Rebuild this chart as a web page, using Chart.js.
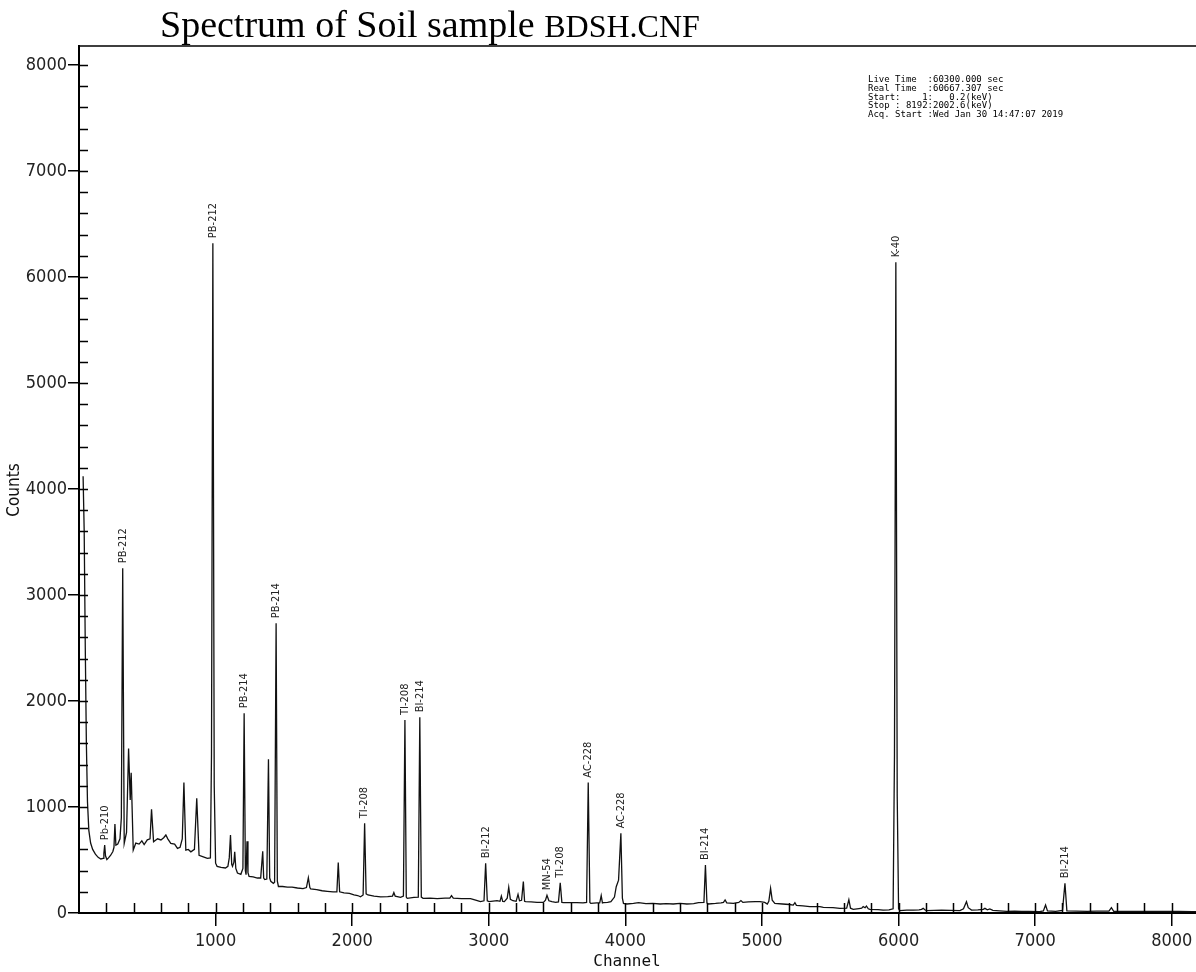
<!DOCTYPE html>
<html>
<head>
<meta charset="utf-8">
<title>Spectrum of Soil sample BDSH.CNF</title>
<script src="https://cdn.jsdelivr.net/npm/chart.js@4.4.0/dist/chart.umd.min.js"></script>
<style>
html, body { margin: 0; padding: 0; background: #fff; overflow: hidden; width: 1196px; height: 972px; }
#wrap { position: relative; width: 1196px; height: 972px; overflow: hidden; }
#myChart { position: absolute; left: 0; top: 0; }
#title { position: absolute; left: 160px; top: 5px; font-family: 'Liberation Serif', 'Times New Roman', serif;
         font-size: 38px; line-height: 38px; white-space: nowrap; color: #000; }
#title span { font-size: 32px; }
#info { position: absolute; left: 868px; top: 75px; font-family: 'DejaVu Sans Mono', monospace;
        font-size: 9px; line-height: 8.8px; white-space: pre; color: #000; }
</style>
</head>
<body>
<div id="wrap">
  <canvas id="myChart" width="1200" height="972"></canvas>
  <div id="title">Spectrum of Soil sample <span>BDSH.CNF</span></div>
  <div id="info">Live Time  :60300.000 sec
Real Time  :60667.307 sec
Start:    1:   0.2(keV)
Stop : 8192:2002.6(keV)
Acq. Start :Wed Jan 30 14:47:07 2019</div>
</div>
<script>
// spectrum (channel, counts)
const channels = [
    30, 38, 46, 54, 62, 72, 85, 100, 120, 140, 160, 176, 182, 188, 194, 204, 216, 232, 248, 256,
    263, 270, 284, 300, 310, 320, 331, 348, 363, 375, 382, 397, 416, 440, 460, 477, 500, 520, 531, 546,
    575, 600, 620, 636, 650, 672, 700, 721, 740, 756, 768, 782, 800, 819, 845, 862, 879, 910, 940, 962,
    970, 980, 990, 1000, 1011, 1040, 1072, 1090, 1100, 1109, 1118, 1124, 1134, 1140, 1148, 1160, 1185, 1200, 1209, 1218,
    1223, 1230, 1237, 1245, 1275, 1306, 1330, 1345, 1352, 1360, 1375, 1387, 1396, 1404, 1423, 1432, 1443, 1452, 1460, 1490,
    1526, 1560, 1599, 1640, 1665, 1679, 1690, 1696, 1740, 1780, 1818, 1860, 1888, 1898, 1908, 1940, 1980, 2013, 2040, 2061,
    2080, 2091, 2102, 2115, 2160, 2208, 2260, 2295, 2305, 2315, 2354, 2375, 2386, 2396, 2403, 2452, 2484, 2495, 2506, 2519,
    2570, 2622, 2680, 2715, 2727, 2740, 2800, 2866, 2910, 2939, 2965, 2977, 2989, 3002, 3060, 3082, 3092, 3102, 3114, 3135,
    3146, 3158, 3177, 3200, 3214, 3225, 3240, 3253, 3262, 3270, 3310, 3353, 3400, 3415, 3426, 3440, 3462, 3490, 3510, 3523,
    3535, 3548, 3600, 3645, 3690, 3716, 3728, 3740, 3747, 3790, 3812, 3823, 3832, 3840, 3870, 3894, 3920, 3933, 3950, 3967,
    3978, 3986, 4011, 4059, 4097, 4150, 4200, 4255, 4300, 4350, 4400, 4450, 4500, 4535, 4575, 4586, 4597, 4608, 4660, 4700,
    4718, 4730, 4742, 4790, 4830, 4846, 4860, 4900, 4950, 4985, 5020, 5039, 5050, 5063, 5075, 5094, 5150, 5200, 5229, 5241,
    5252, 5300, 5350, 5424, 5449, 5520, 5570, 5620, 5636, 5648, 5668, 5710, 5730, 5741, 5755, 5765, 5778, 5790, 5850, 5887,
    5930, 5960, 5970, 5980, 5990, 6000, 6010, 6060, 6108, 6150, 6168, 6180, 6192, 6205, 6260, 6315, 6380, 6449, 6475, 6497,
    6510, 6534, 6580, 6620, 6632, 6650, 6668, 6690, 6740, 6790, 6850, 6900, 6950, 7033, 7060, 7076, 7090, 7150, 7200, 7218,
    7232, 7300, 7380, 7450, 7540, 7558, 7575, 7650, 7750, 7850, 7950, 8050, 8150, 8192
];
const counts = [
    4120, 3600, 2500, 1600, 1050, 780, 660, 600, 555, 525, 510, 515, 560, 640, 540, 505, 520, 545, 580, 620,
    840, 640, 650, 700, 900, 3252, 657, 760, 1553, 1066, 1324, 594, 660, 650, 680, 645, 690, 700, 978, 673,
    700, 689, 710, 736, 700, 657, 650, 610, 620, 700, 1230, 594, 600, 577, 600, 1082, 545, 530, 515, 520,
    1500, 6320, 1200, 470, 440, 430, 425, 440, 520, 736, 460, 440, 480, 577, 420, 377, 365, 420, 1884, 400,
    361, 677, 380, 346, 340, 330, 330, 583, 330, 315, 320, 1450, 330, 299, 280, 290, 2733, 300, 250, 250,
    245, 245, 236, 230, 240, 333, 240, 227, 220, 210, 205, 200, 200, 475, 200, 190, 186, 170, 165, 153,
    170, 846, 180, 170, 160, 153, 155, 160, 192, 158, 148, 160, 1821, 150, 138, 148, 150, 1846, 150, 138,
    140, 135, 140, 140, 164, 140, 135, 135, 120, 107, 115, 469, 115, 107, 116, 110, 160, 110, 107, 140,
    242, 130, 116, 110, 176, 115, 120, 296, 110, 107, 105, 100, 100, 120, 167, 115, 107, 100, 105, 286,
    100, 97, 97, 97, 95, 100, 1230, 100, 91, 95, 95, 164, 95, 97, 100, 107, 150, 248, 310, 752,
    140, 91, 85, 91, 97, 88, 90, 85, 88, 85, 90, 85, 88, 97, 100, 453, 95, 85, 90, 95,
    100, 123, 95, 91, 100, 117, 100, 105, 108, 107, 100, 85, 110, 233, 120, 91, 85, 80, 75, 97,
    72, 68, 60, 60, 53, 50, 44, 45, 125, 45, 35, 42, 45, 60, 50, 66, 40, 35, 32, 28,
    30, 40, 1500, 6140, 1100, 40, 22, 28, 28, 30, 34, 44, 30, 22, 25, 28, 25, 22, 40, 107,
    50, 28, 30, 35, 44, 30, 38, 25, 20, 16, 18, 15, 15, 13, 20, 75, 20, 16, 25, 280,
    20, 18, 15, 18, 18, 50, 16, 15, 15, 15, 14, 14, 13, 13
];

// identified peaks
const peakNames = ["Pb-210", "PB-212", "PB-212", "PB-214", "PB-214", "TI-208", "TI-208", "BI-214",
                   "BI-212", "MN-54", "TI-208", "AC-228", "AC-228", "BI-214", "K-40", "BI-214"];
const peakChannels = [188, 320, 980, 1209, 1443, 2091, 2386, 2495, 2977, 3426, 3523, 3728, 3967, 4586, 5980, 7218];
const peakCounts = [640, 3252, 6320, 1884, 2733, 846, 1821, 1846, 469, 167, 286, 1230, 752, 453, 6140, 280];

// axis ticks
const xTicks = [1000, 2000, 3000, 4000, 5000, 6000, 7000, 8000];
const yTicks = [0, 1000, 2000, 3000, 4000, 5000, 6000, 7000, 8000];
const minorStep = 200;

const narrow = "'Liberation Sans Narrow', 'DejaVu Sans Condensed', sans-serif";

const extras = {
    id: "extras",
    afterDraw(chart) {
        const { ctx, chartArea: a, scales: { x, y } } = chart;
        ctx.save();
        ctx.strokeStyle = "#000";
        ctx.lineWidth = 1.5;
        ctx.beginPath();
        // top frame line
        ctx.moveTo(a.left, a.top);
        ctx.lineTo(a.right + 4, a.top);
        // inward ticks
        for (let v = minorStep; v <= x.max; v += minorStep) {
            const px = Math.round(x.getPixelForValue(v)) + 0.5;
            ctx.moveTo(px, a.bottom);
            ctx.lineTo(px, a.bottom - 10);
        }
        for (let v = minorStep; v <= y.max; v += minorStep) {
            const py = Math.round(y.getPixelForValue(v)) + 0.5;
            ctx.moveTo(a.left, py);
            ctx.lineTo(a.left + 9, py);
        }
        ctx.stroke();

        // peak labels
        ctx.fillStyle = "#222";
        ctx.font = "11px " + narrow;
        ctx.textAlign = "left";
        ctx.textBaseline = "middle";
        peakNames.forEach((name, i) => {
            const px = x.getPixelForValue(peakChannels[i]);
            const py = y.getPixelForValue(peakCounts[i]) - 5;
            ctx.save();
            ctx.translate(px, py);
            ctx.rotate(-Math.PI / 2);
            ctx.fillText(name, 0, 0);
            ctx.restore();
        });

        // axis titles
        ctx.fillStyle = "#111";
        ctx.font = "17px " + narrow;
        ctx.textAlign = "center";
        ctx.save();
        ctx.translate(15, 490);
        ctx.rotate(-Math.PI / 2);
        ctx.fillText("Counts", 0, 0);
        ctx.restore();
        ctx.font = "16px 'DejaVu Sans Mono', monospace";
        ctx.fillText("Channel", 627, 962);
        ctx.restore();
    }
};

new Chart("myChart", {
    type: "line",
    data: {
        datasets: [{
            data: channels.map((c, i) => ({ x: c, y: counts[i] })),
            borderColor: "#111",
            borderWidth: 1.3,
            pointRadius: 0,
            tension: 0,
            fill: false
        }]
    },
    options: {
        responsive: false,
        animation: false,
        layout: { padding: { top: 46, right: 2, left: 0, bottom: 0 } },
        plugins: { legend: { display: false }, tooltip: { enabled: false } },
        scales: {
            x: {
                type: "linear",
                min: 0,
                max: 8192,
                afterBuildTicks: s => { s.ticks = xTicks.map(v => ({ value: v })); },
                afterFit: s => { s.height = 59; },
                ticks: { font: { family: narrow, size: 18 }, color: "#222", padding: 5, maxRotation: 0, autoSkip: false,
                         callback: v => String(v) },
                grid: { drawOnChartArea: false, tickLength: 13, color: "#000", lineWidth: 1.5 },
                border: { display: true, color: "#000", width: 2 }
            },
            y: {
                min: 0,
                max: 8180,
                afterBuildTicks: s => { s.ticks = yTicks.map(v => ({ value: v })); },
                afterFit: s => { s.width = 79; },
                ticks: { font: { family: narrow, size: 18 }, color: "#222", padding: 1, autoSkip: false,
                         callback: v => String(v) },
                grid: { drawOnChartArea: false, tickLength: 11, color: "#000", lineWidth: 1.5 },
                border: { display: true, color: "#000", width: 2 }
            }
        }
    },
    plugins: [extras]
});
</script>
</body>
</html>
